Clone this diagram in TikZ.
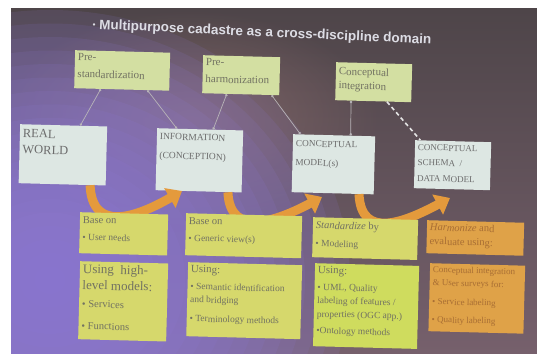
\documentclass[tikz,border=0pt]{standalone}
\usepackage{fontspec}
\setmainfont{Liberation Serif}
\newfontfamily\titlefont{Liberation Sans}
\usetikzlibrary{calc,arrows.meta,fadings}
\tikzfading[name=glowfade, inner color=transparent!0, outer color=transparent!100]
\definecolor{bgtop}{HTML}{4E4549}
\definecolor{bgbottom}{HTML}{76606C}
\definecolor{bgpurple}{HTML}{907CDA}
\definecolor{warmglow}{HTML}{8E6E6E}
\definecolor{topgreen}{HTML}{D3DFA2}
\definecolor{midbox}{HTML}{DDE7E3}
\definecolor{yelbox}{HTML}{D6D86C}
\definecolor{grnbox}{HTML}{CFDC5E}
\definecolor{orbox}{HTML}{DFA248}
\definecolor{boxtext}{HTML}{727262}
\definecolor{ortext}{HTML}{A86E34}
\definecolor{arrowor}{HTML}{E49A3C}
\definecolor{linegray}{HTML}{B8B4B8}
\definecolor{titlecol}{HTML}{DCDCE4}
\newcommand{\bxt}[3]{\parbox[c][#2][t]{#1}{#3}}
\newcommand{\fs}[2]{\fontsize{#1}{#2}\selectfont}
\tikzset{
  box/.style={anchor=north west, inner sep=3pt, rotate=-1.5, text=boxtext, font=\fs{11}{14}},
  topbox/.style={box, fill=topgreen},
  midb/.style={box, fill=midbox, text=gray!85!black},
  yelb/.style={box, fill=yelbox},
  grnb/.style={box, fill=grnbox},
  orb/.style={box, fill=orbox, text=ortext},
  thinline/.style={draw=linegray, line width=0.7pt, {Circle[length=2.5pt]}-{Circle[length=2.5pt]}},
  dashline/.style={draw=gray!20, line width=1.6pt, dash pattern=on 4pt off 3pt},
  orarrow/.style={draw=arrowor, line width=9pt, -{Triangle[width=22pt,length=14pt]}},
}
\begin{document}
\begin{tikzpicture}[x=1pt,y=-1pt]
\useasboundingbox (0,0) rectangle (537,353);
\fill[white] (0,0) rectangle (537,353);
% slide background
\shade[top color=bgtop, bottom color=bgbottom] (11,9) rectangle (537,353);
\begin{scope}
\clip (11,9) rectangle (537,353);
\fill[warmglow, path fading=glowfade, opacity=0.7] (190,120) ellipse (190 and 110);
\foreach \r in {1,...,20} {
  \fill[bgpurple, opacity=0.12] (50,280) ellipse ({15*\r} and {13.5*\r});
}
\end{scope}
% title
\node[rotate=-2.6, text=titlecol, font=\titlefont\bfseries\fs{13.5}{15}] (title) at (262,33) {{\fs{8}{10}\raisebox{1.5pt}{•}}\ Multipurpose cadastre as a cross-discipline domain};
% top boxes
\node[topbox, font=\fs{11}{17}] (ps) at (75,50) {\bxt{89pt}{32pt}{Pre-\\standardization}};
\node[topbox, font=\fs{11}{17}] (ph) at (203,55) {\bxt{71pt}{32pt}{Pre-\\harmonization}};
\node[topbox, font=\fs{11}{14}] (ci) at (336,62) {\bxt{70pt}{32pt}{\vspace{2pt}Conceptual\\integration}};
% middle boxes
\node[midb, font=\fs{12.5}{16}] (rw) at (20,124) {\bxt{81pt}{53pt}{\vspace{2pt}REAL\\WORLD}};
\node[midb, font=\fs{9.5}{19}] (inf) at (157,128) {\bxt{80pt}{56pt}{\vspace{2pt}INFORMATION\\(CONCEPTION)}};
\node[midb, font=\fs{9.3}{19}] (cm) at (293,134) {\bxt{76pt}{52pt}{\vspace{3pt}CONCEPTUAL\\MODEL(s)}};
\node[midb, font=\fs{9}{15}] (cs) at (415,140) {\bxt{70pt}{42pt}{\vspace{1pt}CONCEPTUAL\\SCHEMA~~/\\[1pt]DATA MODEL}};
% connectors
\draw[thinline] ($(ps.south west)!0.28!(ps.south east)$) -- ($(rw.north west)!0.69!(rw.north east)$);
\draw[thinline] ($(ps.south west)!0.77!(ps.south east)$) -- ($(inf.north west)!0.23!(inf.north east)$);
\draw[thinline] ($(ph.south west)!0.32!(ph.south east)$) -- ($(inf.north west)!0.65!(inf.north east)$);
\draw[thinline] ($(ph.south west)!0.90!(ph.south east)$) -- ($(cm.north west)!0.09!(cm.north east)$);
\draw[thinline] ($(ci.south west)!0.21!(ci.south east)$) -- ($(cm.north west)!0.70!(cm.north east)$);
\draw[dashline] ($(ci.south west)!0.68!(ci.south east)$) -- ($(cs.north west)!0.07!(cs.north east)$);
% orange arrows
\coordinate (a1e) at (182,191);
\coordinate (a2e) at (322,197);
\coordinate (a3e) at (450,198);
\draw[orarrow] ($(rw.south west)!0.82!(rw.south east)$) .. controls +(2,48) and +(-45,26) .. (a1e);
\draw[orarrow] ($(inf.south west)!0.84!(inf.south east)$) .. controls +(2,46) and +(-45,24) .. (a2e);
\draw[orarrow] ($(cm.south west)!0.82!(cm.south east)$) .. controls +(2,46) and +(-45,24) .. (a3e);
% bottom boxes
\node[yelb, font=\fs{10.5}{13}] (b1a) at (80,212) {\bxt{82pt}{35pt}{\vspace{1pt}Base on\\[4pt]{\fs{9.5}{11}\textbullet\ User needs}}};
\node[yelb, font=\fs{13}{16}] (b1b) at (80,261) {\bxt{82pt}{72pt}{Using~ high-\\level models:\\[2pt]{\fs{10.5}{12}\textbullet\ Services}\\[6pt]{\fs{10.5}{12}\textbullet\ Functions}}};
\node[yelb, font=\fs{10.5}{13}] (b2a) at (186,213) {\bxt{110pt}{36pt}{\vspace{1pt}Base on\\[4pt]{\fs{9.5}{11}\textbullet\ Generic view(s)}}};
\node[yelb, font=\fs{9.5}{13}] (b2b) at (188,262) {\bxt{108pt}{68pt}{{\fs{11}{13}Using:}\\[4pt]\textbullet\ Semantic identification\\and bridging\\[6pt]\textbullet\ Terminology methods}};
\node[yelb, font=\fs{10.5}{13}] (b3a) at (313,217) {\bxt{99pt}{34pt}{\vspace{1pt}\textit{Standardize} by\\[5pt]{\fs{9.5}{11}\textbullet\ Modeling}}};
\node[grnb, font=\fs{9.5}{13.5}] (b3b) at (315,263) {\bxt{98pt}{77pt}{{\fs{11}{13}Using:}\\[3pt]\textbullet\ UML, Quality\\labeling of features /\\properties (OGC app.)\\[3pt]\textbullet Ontology methods}};
\node[orb, font=\fs{10.5}{14}] (b4a) at (427,220) {\bxt{91pt}{27pt}{\textit{Harmonize} and\\evaluate using:}};
\node[orb, font=\fs{9}{13}] (b4b) at (430,263) {\bxt{89pt}{62pt}{Conceptual integration\\\& User surveys for:\\[6pt]\textbullet\ Service labeling\\[5pt]\textbullet\ Quality labeling}};
\end{tikzpicture}
\end{document}
